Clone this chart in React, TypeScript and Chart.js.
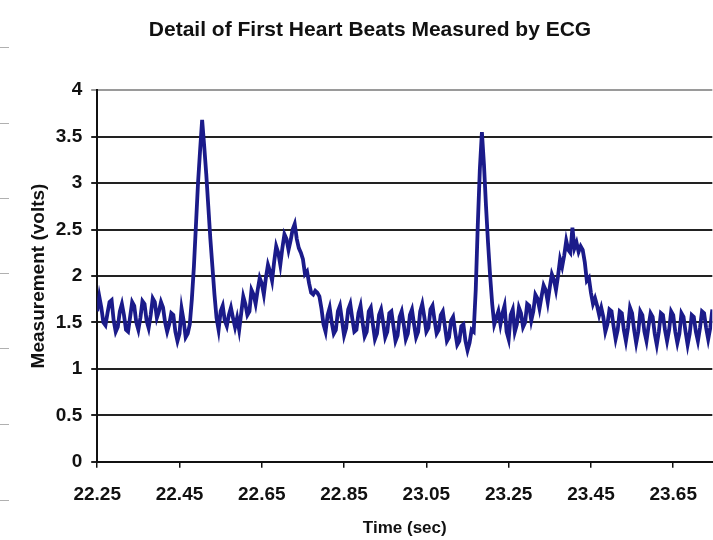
import React, { useEffect, useRef } from "react";
import { Chart, registerables } from "chart.js";

Chart.register(...registerables);

const TITLE = "Detail of First Heart Beats Measured by ECG";
const X_TITLE = "Time (sec)";
const Y_TITLE = "Measurement (volts)";

const X_TICKS = [22.25, 22.45, 22.65, 22.85, 23.05, 23.25, 23.45, 23.65];
const Y_TICKS = [0, 0.5, 1, 1.5, 2, 2.5, 3, 3.5, 4];

const START_TIME = 22.25;
const SAMPLE_STEP = 0.005;

// ECG samples (volts), one every 5 ms starting at 22.25 s
const VOLTS = [
  1.62, 1.78, 1.66, 1.5, 1.47, 1.6, 1.72, 1.74, 1.52, 1.4,
  1.45, 1.62, 1.7, 1.58, 1.42, 1.4, 1.56, 1.72, 1.68, 1.5,
  1.42, 1.55, 1.73, 1.7, 1.52, 1.44, 1.58, 1.76, 1.72, 1.55,
  1.62, 1.72, 1.66, 1.5, 1.4, 1.48, 1.6, 1.58, 1.4, 1.3,
  1.38, 1.65, 1.52, 1.34, 1.38, 1.48, 1.75, 2.1, 2.55, 3.0,
  3.35, 3.68, 3.4, 3.1, 2.75, 2.4, 2.1, 1.8, 1.55, 1.42,
  1.62, 1.68, 1.52, 1.46, 1.58, 1.66, 1.55, 1.45, 1.55, 1.42,
  1.6, 1.78, 1.7, 1.58, 1.62, 1.85, 1.8, 1.7, 1.85, 1.98,
  1.92, 1.8, 1.98, 2.12, 2.05, 1.95, 2.15, 2.32, 2.25, 2.12,
  2.3, 2.45, 2.4, 2.28, 2.38, 2.5, 2.56, 2.4, 2.3, 2.25,
  2.18, 2.02, 2.05, 1.92, 1.82, 1.8, 1.84, 1.82, 1.78, 1.65,
  1.48, 1.4, 1.58, 1.66, 1.5, 1.38, 1.42, 1.62, 1.68, 1.52,
  1.36, 1.44, 1.64, 1.7, 1.54, 1.4, 1.42, 1.6, 1.68, 1.5,
  1.35, 1.4, 1.62, 1.66, 1.48, 1.32, 1.38, 1.58, 1.64, 1.5,
  1.34, 1.4, 1.6, 1.62, 1.46, 1.3, 1.36, 1.56, 1.62, 1.48,
  1.32, 1.38, 1.58, 1.64, 1.48, 1.34, 1.4, 1.62, 1.7, 1.56,
  1.4, 1.44, 1.64, 1.68, 1.52, 1.38, 1.42, 1.58, 1.62, 1.46,
  1.3, 1.34, 1.52, 1.56, 1.4, 1.26, 1.3, 1.46, 1.48, 1.3,
  1.2, 1.28, 1.42, 1.4, 1.85, 2.55, 3.15, 3.55, 3.2, 2.75,
  2.35, 2.0, 1.7, 1.48, 1.55, 1.62, 1.48, 1.6, 1.68, 1.4,
  1.32, 1.58, 1.64, 1.4, 1.48, 1.66, 1.6, 1.45, 1.5, 1.7,
  1.68, 1.52, 1.62, 1.8, 1.76, 1.65, 1.78, 1.9, 1.85, 1.72,
  1.88, 2.02, 1.96, 1.85, 2.0, 2.18, 2.1, 2.22, 2.38, 2.28,
  2.25, 2.52, 2.3, 2.36, 2.26, 2.32, 2.28, 2.15, 1.95, 1.98,
  1.82, 1.7, 1.76, 1.68, 1.58, 1.66, 1.56, 1.4, 1.48, 1.64,
  1.62, 1.46, 1.32, 1.42, 1.62, 1.6, 1.42, 1.3, 1.44, 1.66,
  1.6, 1.42, 1.28, 1.4, 1.62, 1.58, 1.4, 1.3, 1.46, 1.6,
  1.56, 1.38, 1.26, 1.4, 1.6, 1.58, 1.42, 1.3, 1.42, 1.62,
  1.58, 1.4, 1.28, 1.38, 1.6, 1.56, 1.4, 1.26, 1.38, 1.58,
  1.56, 1.4, 1.3, 1.44, 1.62, 1.6, 1.44, 1.32, 1.44, 1.64,
];

const X_MIN = 22.25;
const X_MAX = 23.745;

const SANS = "'Liberation Sans', Arial, sans-serif";

export default function App() {
  const canvasRef = useRef<HTMLCanvasElement | null>(null);

  useEffect(() => {
    if (!canvasRef.current) return;
    const points = VOLTS.map((v, i) => ({ x: START_TIME + i * SAMPLE_STEP, y: v }));
    const chart = new Chart(canvasRef.current, {
      type: "line",
      data: {
        datasets: [
          {
            data: points,
            borderColor: "#1b1b8a",
            borderWidth: 3.8,
            pointRadius: 0,
            tension: 0,
            fill: false,
          },
        ],
      },
      options: {
        animation: false,
        responsive: false,
        maintainAspectRatio: false,
        layout: { padding: { left: 27, right: 0, top: 0, bottom: 1 } },
        plugins: {
          legend: { display: false },
          tooltip: { enabled: false },
          title: {
            display: true,
            text: TITLE,
            color: "#111",
            font: { family: SANS, size: 21, weight: "bold" },
            padding: { top: 18, bottom: 47 },
          },
        },
        scales: {
          x: {
            type: "linear",
            min: X_MIN,
            max: X_MAX,
            afterBuildTicks: (axis: any) => {
              axis.ticks = X_TICKS.map((v) => ({ value: v }));
            },
            ticks: {
              color: "#111",
              font: { family: SANS, size: 19, weight: "bold" },
              padding: 16,
              autoSkip: false,
              maxRotation: 0,
              callback: (v: any) => Number(v).toFixed(2),
            },
            grid: {
              drawOnChartArea: false,
              drawTicks: true,
              tickLength: 6,
              color: "#111",
              lineWidth: 1.5,
            },
            border: { color: "#111", width: 2 },
            title: {
              display: true,
              text: X_TITLE,
              color: "#111",
              font: { family: SANS, size: 17, weight: "bold" },
              padding: { top: -4, bottom: 0 },
            },
          },
          y: {
            type: "linear",
            min: 0,
            max: 4,
            afterBuildTicks: (axis: any) => {
              axis.ticks = Y_TICKS.map((v) => ({ value: v }));
            },
            ticks: {
              color: "#111",
              font: { family: SANS, size: 19, weight: "bold" },
              padding: 9,
              callback: (v: any) => String(v),
            },
            grid: {
              color: (ctx: any) => (ctx.tick && ctx.tick.value === 4 ? "#9a9a9a" : "#222"),
              lineWidth: 2,
              tickLength: 6,
            },
            border: { color: "#111", width: 2 },
            title: {
              display: true,
              text: Y_TITLE,
              color: "#111",
              font: { family: SANS, size: 19, weight: "bold" },
              padding: { top: 0, bottom: -3 },
            },
          },
        },
      },
    });
    return () => chart.destroy();
  }, []);

  const dashYs = [47, 123, 198, 273, 348, 424, 500];

  return (
    <div style={{ position: "fixed", left: 0, top: 0, width: 713, height: 540, background: "#fff" }}>
      <canvas ref={canvasRef} width={713} height={540} style={{ display: "block" }} />
      {dashYs.map((y) => (
        <div
          key={y}
          style={{ position: "absolute", left: 0, top: y, width: 9, height: 1, background: "#b0b0b0" }}
        />
      ))}
    </div>
  );
}
